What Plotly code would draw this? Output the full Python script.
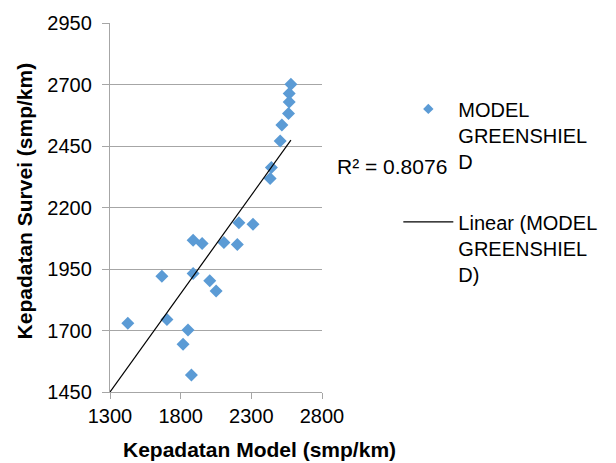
import plotly.graph_objects as go

# ---- data ----
model_density = [2580, 2568, 2568, 2563, 2516, 2504, 2442, 2433, 2212, 2312,
                 1888, 1952, 2106, 2201, 1667, 1888, 2006, 2051, 1426, 1703,
                 1852, 1817, 1876]
survey_density = [2701, 2663, 2629, 2582, 2535, 2470, 2363, 2318, 2138, 2132,
                  2067, 2054, 2058, 2050, 1921, 1932, 1902, 1861, 1729, 1745,
                  1702, 1644, 1519]
trend_slope = 0.80
trend_intercept = 410.0
r_squared_text = "R² = 0.8076"
series_name = "MODEL<br>GREENSHIEL<br>D"
trend_name = "Linear (MODEL<br>GREENSHIEL<br>D)"
x_ticks = [1300, 1800, 2300, 2800]
y_ticks = [1450, 1700, 1950, 2200, 2450, 2700, 2950]
x_title = "Kepadatan Model (smp/km)"
y_title = "Kepadatan Survei (smp/km)"

blue = "#5B9BD5"
grid = "#A6A6A6"
font_family = "Liberation Sans, Arial, sans-serif"

trend_x = [x_ticks[0], max(model_density)]
trend_y = [trend_intercept + trend_slope * v for v in trend_x]

fig = go.Figure()
fig.add_trace(go.Scatter(
    x=model_density, y=survey_density, mode="markers",
    marker=dict(symbol="diamond", size=10, color=blue),
    showlegend=False, cliponaxis=True))
# legend entry for the series (smaller legend marker)
fig.add_trace(go.Scatter(
    x=[None], y=[None], mode="markers", name=series_name,
    marker=dict(symbol="diamond", size=8, color=blue),
    legendgroup="a"))
fig.add_trace(go.Scatter(
    x=trend_x, y=trend_y, mode="lines", name=trend_name,
    line=dict(color="black", width=1.2), legendgroup="b"))

fig.update_layout(
    width=616, height=463,
    margin=dict(l=110, r=294, t=23, b=71),
    paper_bgcolor="white", plot_bgcolor="white",
    font=dict(family=font_family, size=20, color="black"),
    legend=dict(x=1.36, xanchor="left", y=0.82, yanchor="top",
                valign="top", traceorder="grouped", tracegroupgap=32,
                itemwidth=50, font=dict(size=20),
                bgcolor="rgba(0,0,0,0)"),
    xaxis=dict(range=[x_ticks[0], x_ticks[-1]], tickvals=x_ticks,
               showgrid=False, zeroline=False,
               showline=True, linecolor=grid, linewidth=1.3,
               ticks="outside", ticklen=6, tickcolor=grid,
               tickfont=dict(size=20)),
    yaxis=dict(range=[y_ticks[0], y_ticks[-1]], tickvals=y_ticks,
               showgrid=True, gridcolor=grid, gridwidth=1.3,
               zeroline=False,
               showline=True, linecolor=grid, linewidth=1.3,
               ticks="outside", ticklen=7, tickcolor=grid,
               ticklabelstandoff=6,
               tickfont=dict(size=20)),
    annotations=[
        dict(text="<b>" + x_title + "</b>", xref="paper", yref="paper",
             x=0.703, y=-0.155, xanchor="center", yanchor="middle",
             showarrow=False, font=dict(size=21)),
        dict(text="<b>" + y_title + "</b>", xref="paper", yref="paper",
             x=-0.403, y=0.518, xanchor="center", yanchor="middle",
             textangle=-90, showarrow=False, font=dict(size=21)),
        dict(text=r_squared_text, xref="paper", yref="paper",
             x=(335 - 110) / 212, y=(392 - 166) / 369,
             xanchor="left", yanchor="middle",
             showarrow=False, font=dict(size=21)),
    ],
)

fig.write_html("out.html")
